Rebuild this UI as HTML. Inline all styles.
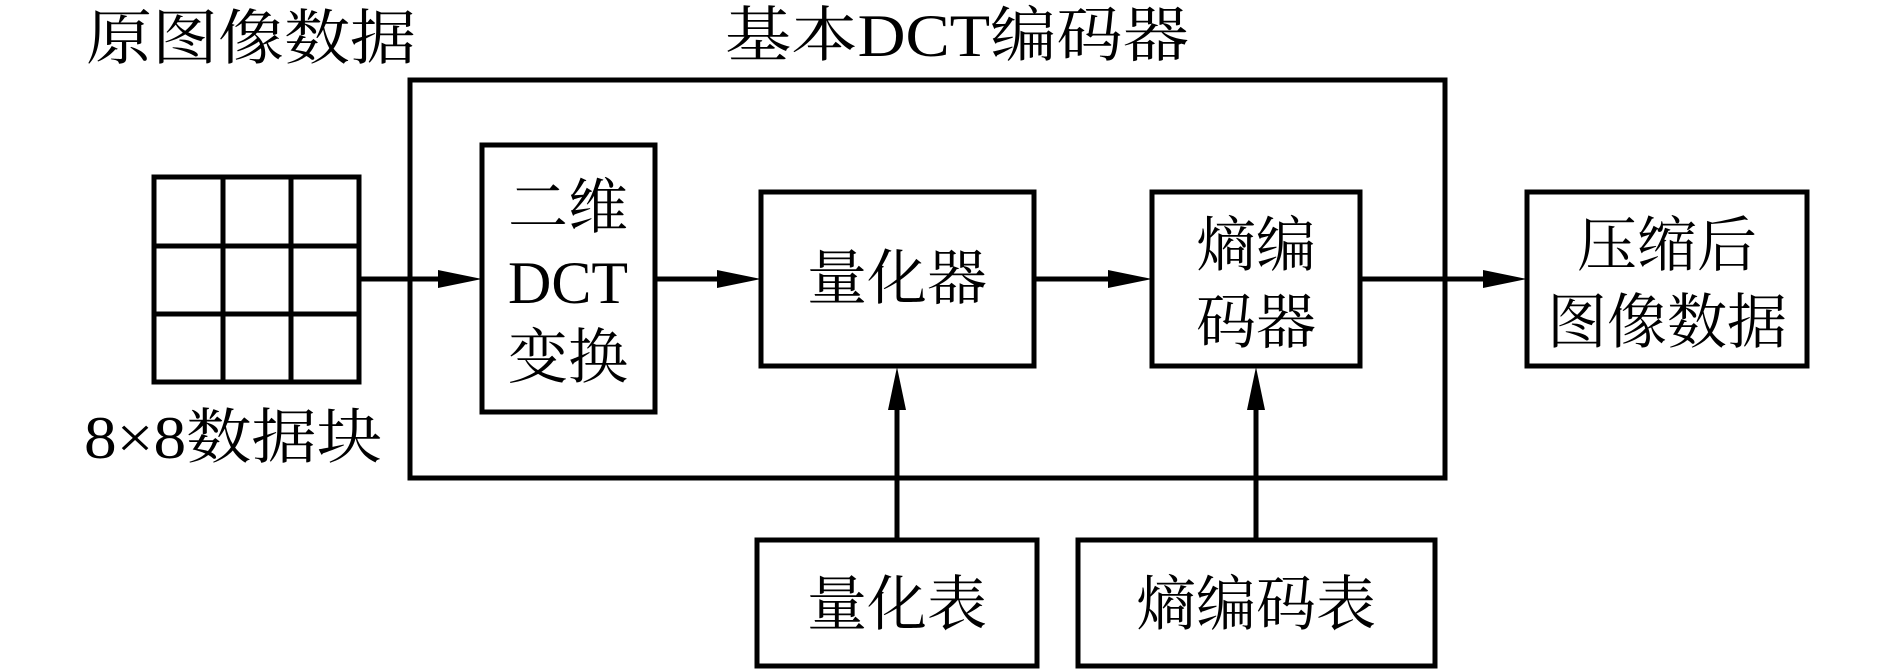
<!DOCTYPE html>
<html><head><meta charset="utf-8"><style>
html,body{margin:0;padding:0;background:#fff;}
svg{display:block}
text{font-family:"Liberation Serif","Noto Serif CJK SC",serif;font-size:60px;fill:#000;}
</style></head><body>
<svg width="1889" height="669" viewBox="0 0 1889 669" xmlns="http://www.w3.org/2000/svg">
<g fill="none" stroke="#000" stroke-width="5">
<rect x="154" y="177" width="205" height="205"/>
<line x1="223" y1="177" x2="223" y2="382"/>
<line x1="291" y1="177" x2="291" y2="382"/>
<line x1="154" y1="246" x2="359" y2="246"/>
<line x1="154" y1="314" x2="359" y2="314"/>
<rect x="410" y="80" width="1035" height="398"/>
<rect x="482" y="145" width="173" height="267"/>
<rect x="761" y="192" width="273" height="174"/>
<rect x="1152" y="192" width="208" height="174"/>
<rect x="1527" y="192" width="280" height="174"/>
<rect x="757" y="540" width="280" height="126"/>
<rect x="1078" y="540" width="357" height="126"/>
<line x1="359" y1="279" x2="440" y2="279"/>
<line x1="655" y1="279" x2="718" y2="279"/>
<line x1="1034" y1="279" x2="1110" y2="279"/>
<line x1="1360" y1="279" x2="1485" y2="279"/>
<line x1="897" y1="540" x2="897" y2="405"/>
<line x1="1256" y1="540" x2="1256" y2="405"/>
</g>
<g fill="#000">
<polygon points="482,279 438,270 438,288"/>
<polygon points="761,279 717,270 717,288"/>
<polygon points="1152,279 1108,270 1108,288"/>
<polygon points="1527,279 1483,270 1483,288"/>
<polygon points="897,367 888,410 906,410"/>
<polygon points="1256,367 1247,410 1265,410"/>
</g>
<text x="86" y="59" textLength="330" lengthAdjust="spacingAndGlyphs">原图像数据</text>
<text x="725" y="56" textLength="464" lengthAdjust="spacingAndGlyphs">基本DCT编码器</text>
<text x="84" y="458" textLength="298" lengthAdjust="spacingAndGlyphs">8×8数据块</text>
<g text-anchor="middle">
<text x="568" y="228">二维</text>
<text x="568" y="303">DCT</text>
<text x="568" y="378">变换</text>
<text x="897" y="299">量化器</text>
<text x="1256" y="266">熵编</text>
<text x="1256" y="343">码器</text>
<text x="1667" y="266">压缩后</text>
<text x="1667" y="343">图像数据</text>
<text x="897" y="625">量化表</text>
<text x="1256" y="625">熵编码表</text>
</g>
</svg>
</body></html>
